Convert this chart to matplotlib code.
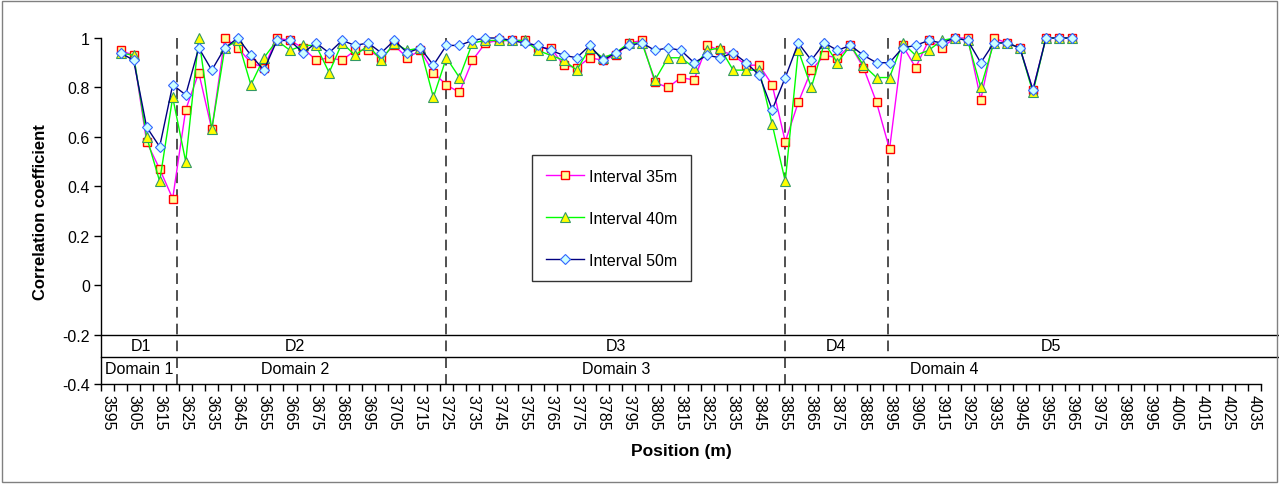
import matplotlib

matplotlib.use("Agg")
import matplotlib.pyplot as plt
from matplotlib.patches import Rectangle

plt.rcParams["font.family"] = ["Liberation Sans", "DejaVu Sans"]

# positions (m), one sample every 5 m
POSITIONS = list(range(3600, 3970, 5))

INT_35 = [0.95, 0.93, 0.58, 0.47, 0.35, 0.71, 0.86, 0.63, 1.00, 0.96,
          0.90, 0.88, 1.00, 0.99, 0.96, 0.91, 0.92, 0.91, 0.95, 0.95,
          0.92, 0.97, 0.92, 0.95, 0.86, 0.81, 0.78, 0.91, 0.98, 0.99,
          0.99, 0.99, 0.96, 0.96, 0.89, 0.88, 0.92, 0.91, 0.93, 0.98,
          0.99, 0.82, 0.80, 0.84, 0.83, 0.97, 0.95, 0.93, 0.89, 0.89,
          0.81, 0.58, 0.74, 0.87, 0.93, 0.92, 0.97, 0.88, 0.74, 0.55,
          0.97, 0.88, 0.99, 0.96, 1.00, 1.00, 0.75, 1.00, 0.98, 0.96,
          0.79, 1.00, 1.00, 1.00]
INT_40 = [0.94, 0.93, 0.60, 0.42, 0.76, 0.50, 1.00, 0.63, 0.96, 0.99,
          0.81, 0.92, 0.99, 0.95, 0.97, 0.97, 0.86, 0.98, 0.93, 0.97,
          0.91, 0.98, 0.95, 0.96, 0.76, 0.92, 0.84, 0.98, 0.99, 0.99,
          0.99, 0.99, 0.95, 0.93, 0.91, 0.87, 0.96, 0.92, 0.94, 0.98,
          0.98, 0.83, 0.92, 0.92, 0.88, 0.95, 0.96, 0.87, 0.87, 0.87,
          0.65, 0.42, 0.95, 0.80, 0.98, 0.90, 0.97, 0.89, 0.84, 0.84,
          0.98, 0.93, 0.95, 0.99, 1.00, 0.99, 0.80, 0.98, 0.98, 0.96,
          0.78, 1.00, 1.00, 1.00]
INT_50 = [0.94, 0.91, 0.64, 0.56, 0.81, 0.77, 0.96, 0.87, 0.96, 1.00,
          0.93, 0.87, 0.99, 0.99, 0.94, 0.98, 0.94, 0.99, 0.97, 0.98,
          0.94, 0.99, 0.94, 0.96, 0.89, 0.97, 0.97, 0.99, 1.00, 1.00,
          0.99, 0.98, 0.97, 0.95, 0.93, 0.92, 0.97, 0.91, 0.94, 0.97,
          0.98, 0.95, 0.96, 0.95, 0.90, 0.93, 0.92, 0.94, 0.90, 0.85,
          0.71, 0.84, 0.98, 0.91, 0.98, 0.95, 0.97, 0.93, 0.90, 0.90,
          0.96, 0.97, 0.99, 0.98, 1.00, 0.99, 0.90, 0.98, 0.98, 0.96,
          0.79, 1.00, 1.00, 1.00]

# domain boundaries (m) and how far down each one reaches
BOUNDS = [3621.5, 3725, 3855, 3894.5]
BOUND_BOTTOM = [-0.4, -0.4, -0.4, -0.29]
SHORT_NAMES = ["D1", "D2", "D3", "D4", "D5"]
SHORT_X = [3608, 3667, 3790, 3874.5, 3957]
LONG_NAMES = ["Domain 1", "Domain 2", "Domain 3", "Domain 4"]
LONG_X = [3607, 3667, 3790, 3916]

XTICK_LABELS = list(range(3595, 4036, 10))
YTICKS = [-0.4, -0.2, 0, 0.2, 0.4, 0.6, 0.8, 1]
YTICK_LABELS = ["-0.4", "-0.2", "0", "0.2", "0.4", "0.6", "0.8", "1"]

W, H = 1279, 485
fig = plt.figure(figsize=(W / 100, H / 100), dpi=100)
fig.patches.append(Rectangle((2 / W, 2 / H), 1 - 4 / W, 1 - 4 / H, transform=fig.transFigure,
                             fill=False, edgecolor="#808080", lw=1))
ax = fig.add_axes([101 / W, 1 - 385 / H, 1160 / W, 346 / H])

ax.plot(POSITIONS, INT_35, color="#FF00FF", lw=1.0, marker="s", ms=6, mfc="#FFFF99",
        mec="#FF0000", mew=1.0, label="Interval 35m", clip_on=False, zorder=3)
ax.plot(POSITIONS, INT_40, color="#00FF00", lw=1.0, marker="^", ms=6.5, mfc="#FFFF00",
        mec="#339966", mew=0.8, label="Interval 40m", clip_on=False, zorder=4)
ax.plot(POSITIONS, INT_50, color="#000080", lw=1.0, marker="D", ms=5, mfc="#CCFFFF",
        mec="#3366FF", mew=0.8, label="Interval 50m", clip_on=False, zorder=5)

ax.set_xlim(3592.5, 4037.5)
ax.set_ylim(-0.4, 1.0)
for s in ["top", "right"]:
    ax.spines[s].set_visible(False)
ax.spines["left"].set_linewidth(1)
ax.spines["bottom"].set_linewidth(1)

# category boundaries carry the tick marks, labels sit at category centres
ax.set_xticks([3592.5 + 5 * i for i in range(90)])
ax.set_xticklabels([])
ax.tick_params(axis="x", which="major", direction="out", length=5, width=1)
ax.set_xticks(XTICK_LABELS, minor=True)
ax.set_xticklabels([str(v) for v in XTICK_LABELS], minor=True, rotation=270, fontsize=11.5)
ax.tick_params(axis="x", which="minor", length=0, pad=7)
ax.set_yticks(YTICKS)
ax.set_yticklabels(YTICK_LABELS, fontsize=11.5)
ax.tick_params(axis="y", direction="out", length=5, width=1, pad=3)

# domain table drawn under the curves
ax.plot([3592.5, 4050], [-0.2, -0.2], color="black", lw=1, clip_on=False)
ax.plot([3592.5, 4048], [-0.29, -0.29], color="black", lw=1, clip_on=False)
for xb, yb in zip(BOUNDS, BOUND_BOTTOM):
    ax.plot([xb, xb], [1.0, yb], color="#202020", lw=1.1, ls=(0, (7, 4)), zorder=2)
for name, xp in zip(SHORT_NAMES, SHORT_X):
    ax.text(xp, -0.245, name, ha="center", va="center", fontsize=11.5)
for name, xp in zip(LONG_NAMES, LONG_X):
    ax.text(xp, -0.337, name, ha="center", va="center", fontsize=11.5)

ax.set_ylabel("Correlation coefficient", fontsize=12, fontweight="bold", labelpad=10)
ax.set_xlabel("Position (m)", fontsize=12.5, fontweight="bold", labelpad=10)

leg = ax.legend(loc="upper left", bbox_to_anchor=(532 / W, 1 - 156 / H),
                bbox_transform=fig.transFigure, fontsize=11.5, frameon=True, fancybox=False,
                edgecolor="black", handlelength=2.4, labelspacing=1.7, borderpad=0.85,
                handletextpad=0.3, borderaxespad=0)
leg.get_frame().set_linewidth(1)

fig.savefig("out.png", dpi=100)
